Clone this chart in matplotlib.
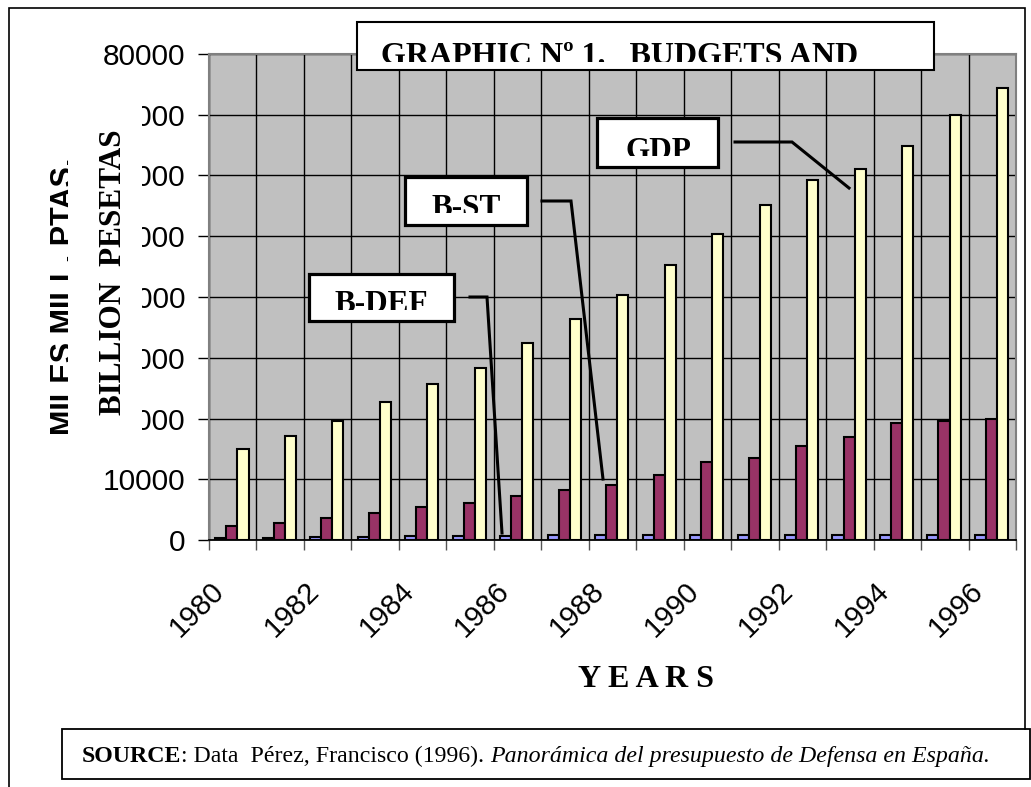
import numpy as np
import matplotlib
matplotlib.use("Agg")
import matplotlib.pyplot as plt
from matplotlib.transforms import Bbox, TransformedBbox, ScaledTranslation
from matplotlib.patches import Rectangle
from matplotlib.lines import Line2D

# ---------------- data ----------------
years = list(range(1980, 1997))
b_def = [300, 350, 450, 550, 650, 700, 700, 780, 830, 880, 900, 880, 860, 780, 850, 880, 900]
b_st = [2300, 2800, 3600, 4500, 5400, 6100, 7200, 8200, 9000, 10700, 12800, 13500, 15500, 16900, 19200, 19600, 20000]
gdp = [15000, 17200, 19600, 22700, 25600, 28300, 32400, 36300, 40300, 45200, 50300, 55200, 59200, 61100, 64900, 70000, 74400]
series_names = ["B-DEF", "B-ST", "GDP"]
series_colors = ["#9999FF", "#993366", "#FFFFCC"]
ytick_values = list(range(0, 80001, 10000))
ytick_labels = [str(v) for v in ytick_values]
title_text = "GRAPHIC Nº 1.   BUDGETS AND"
ylabel_1 = "MILES MILL. PTAS."
ylabel_2 = "BILLION  PESETAS"
xlabel_text = "Y E A R S"

W, H = 1031, 787
fig = plt.figure(figsize=(W / 100, H / 100), dpi=100)
fig.patch.set_facecolor("white")


def fx(x):
    return x / W


def fy(y):
    return 1 - y / H


ax = fig.add_axes([fx(209), fy(540), (1016 - 209) / W, (540 - 54) / H])
ax.set_facecolor("#C0C0C0")

n = len(years)
idx = np.arange(n)
width = 0.233
offsets = [0.25, 0.483, 0.716]
for vals, off, col in zip([b_def, b_st, gdp], offsets, series_colors):
    ax.bar(idx + off, vals, width, color=col, edgecolor="black", linewidth=1.5, zorder=3)

ax.set_xlim(0, n)
ax.set_ylim(0, 80000)
ax.set_yticks(ytick_values)
ax.set_yticklabels(ytick_labels)
ax.set_xticks(range(n + 1))
ax.set_xticklabels([])
ax.grid(True, color="black", linewidth=1.0)
ax.set_axisbelow(True)
ax.tick_params(axis="y", direction="out", length=8, width=1, pad=9, labelsize=21.5)
ax.tick_params(axis="x", direction="out", length=7.5, width=1, color="#555555")
for lab in ax.get_yticklabels():
    lab.set_fontfamily("Liberation Sans")
for s in ["top", "right", "left"]:
    ax.spines[s].set_color("#808080")
    ax.spines[s].set_linewidth(1.5)
ax.spines["bottom"].set_color("black")
ax.spines["bottom"].set_linewidth(1.3)

# rotated year labels
off_tr = ax.get_xaxis_transform() + ScaledTranslation(-0.23, -0.37, fig.dpi_scale_trans)
for i, yr in enumerate(years):
    if yr % 2 == 0:
        ax.text(i + 0.5, 0, str(yr), transform=off_tr, rotation=45, ha="right", va="top",
                rotation_mode="anchor", fontsize=21, family="Liberation Sans")

# white cover over the y tick labels (text box of the axis title)
fig.patches.append(Rectangle((fx(15), fy(452)), (142 - 15) / W, (452 - 88) / H,
                             transform=fig.transFigure, facecolor="white", edgecolor="none", zorder=5))


def box(x0, y0, x1, y1, lw):
    fig.patches.append(Rectangle((fx(x0), fy(y1)), (x1 - x0) / W, (y1 - y0) / H,
                                 transform=fig.transFigure, facecolor="white", edgecolor="black",
                                 linewidth=lw, zorder=6))


def ctext(x, y, s, clip, **kw):
    t = fig.text(fx(x), fy(y), s, zorder=7, **kw)
    x0, y0, x1, y1 = clip
    t.set_clip_box(TransformedBbox(Bbox.from_extents(fx(x0), fy(y1), fx(x1), fy(y0)), fig.transFigure))
    t.set_clip_on(True)
    return t


def pline(pts, lw=2.2):
    xs = [fx(p[0]) for p in pts]
    ys = [fy(p[1]) for p in pts]
    fig.lines.append(Line2D(xs, ys, transform=fig.transFigure, color="black", linewidth=lw,
                            zorder=8, solid_joinstyle="miter"))


serif = "Liberation Serif"

# title box
box(357, 22, 934, 70, 1.5)
ctext(381, 63.5, title_text, (357, 22, 934, 61.5), fontsize=23, family=serif,
      weight="bold", ha="left", va="baseline")

# series label boxes
box(309, 274, 454, 321, 2.3)
ctext(381.5, 312.4, series_names[0], (309, 274, 454, 309.5), fontsize=22.5, family=serif,
      weight="bold", ha="center", va="baseline")
box(405, 177, 527, 225, 2.3)
ctext(466, 215.5, series_names[1], (405, 177, 527, 213), fontsize=22.5, family=serif,
      weight="bold", ha="center", va="baseline")
box(597, 118, 718, 167, 2.3)
ctext(658, 159, series_names[2], (597, 118, 718, 155.5), fontsize=22.5, family=serif,
      weight="bold", ha="center", va="baseline")

# callout lines
pline([(470, 297), (487, 297), (502, 533)])
pline([(542, 201), (571, 201), (603, 479)])
pline([(735, 142), (792, 142), (849, 188)])

# y axis titles
ctext(73, 296, ylabel_1, (15, 30, 68, 600), fontsize=22, family="Liberation Sans",
      weight="bold", rotation=90, rotation_mode="anchor", ha="center", va="baseline")
t2 = fig.text(fx(121), fy(272), ylabel_2, fontsize=22.5, family=serif, weight="bold",
              rotation=90, rotation_mode="anchor", ha="center", va="baseline", zorder=7)

# x axis title
fig.text(fx(646), fy(687), xlabel_text, fontsize=23, family=serif, weight="bold",
         ha="center", va="baseline")

# outer frame
pline([(9, 787), (9, 8), (1025, 8), (1025, 729)], lw=1.2)
# source box
fig.patches.append(Rectangle((fx(62), fy(779)), (1030 - 62) / W, (779 - 729) / H,
                             transform=fig.transFigure, facecolor="white", edgecolor="black",
                             linewidth=1.3, zorder=6))

segs = [("SOURCE", dict(weight="bold")),
        (": Data  Pérez, Francisco (1996).", dict()),
        ("Panorámica del presupuesto de Defensa en España.", dict(style="italic"))]
fig.canvas.draw()
renderer = fig.canvas.get_renderer()
size0 = 14.0
texts = [fig.text(0, 0, s, fontsize=size0, family=serif, zorder=7, **kw) for s, kw in segs]
widths = [t.get_window_extent(renderer).width for t in texts]
gap0 = 0.25 * size0 * 100 / 72
target = 993 - 82
scale = target / (sum(widths) + gap0)
size = size0 * scale
for t in texts:
    t.set_fontsize(size)
widths = [t.get_window_extent(renderer).width for t in texts]
gap = 0.25 * size * 100 / 72
cap = 0.662 * size * 100 / 72
base = 754.5 + cap / 2
x = 82
for i, t in enumerate(texts):
    t.set_position((fx(x), fy(base)))
    t.set_va("baseline")
    x += widths[i] + (gap if i == 1 else 0)

fig.savefig("out.png", dpi=100)
